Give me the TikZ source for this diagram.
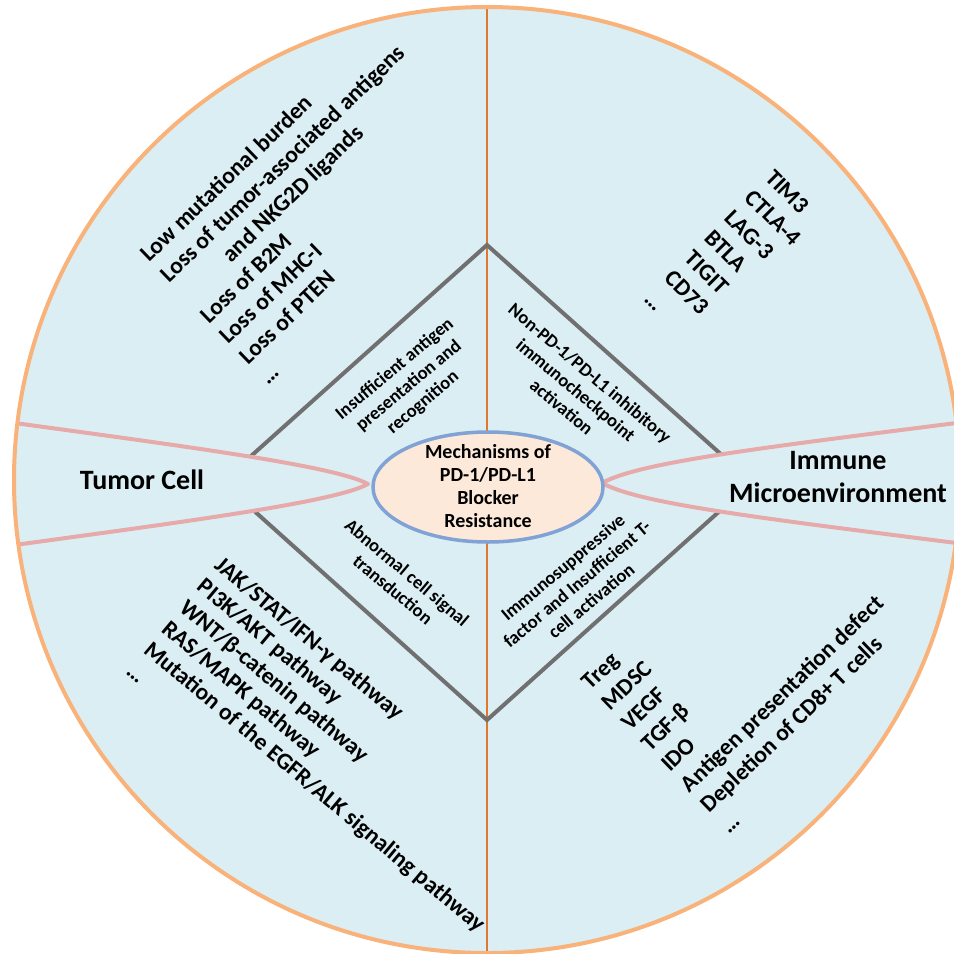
\documentclass[tikz,border=0pt]{standalone}
\usepackage{fontspec}
\setmainfont{Carlito}
\usetikzlibrary{shapes.geometric}
\definecolor{paleblue}{RGB}{219,238,244}
\definecolor{rimorange}{RGB}{248,178,122}
\definecolor{axisorange}{RGB}{226,118,44}
\definecolor{lenspink}{RGB}{231,170,170}
\definecolor{diamondgray}{RGB}{112,112,112}
\definecolor{corepeach}{RGB}{253,233,217}
\definecolor{coreblue}{RGB}{128,162,212}
\tikzset{
	liststyle/.style={inner sep=0pt,align=left,anchor=north west,font=\fontsize{23.5}{28.5}\selectfont\bfseries},
	causestyle/.style={inner sep=0pt,align=center,font=\fontsize{18.5}{22}\selectfont\bfseries},
	sidestyle/.style={inner sep=0pt,align=center,font=\fontsize{28}{33}\selectfont\bfseries},
	corestyle/.style={ellipse,draw=coreblue,line width=3.5pt,fill=corepeach,minimum width=230pt,minimum height=110pt,inner sep=0pt},
	coretext/.style={inner sep=0pt,align=center,font=\fontsize{20}{23}\selectfont\bfseries},
	lensline/.style={draw=lenspink,line width=4pt,line join=round},
	diamondline/.style={draw=diamondgray,line width=4pt},
	axisline/.style={draw=axisorange,line width=1.6pt},
	rimline/.style={draw=rimorange,line width=4pt}
}
\begin{document}
\begin{tikzpicture}[x=1pt,y=-1pt]
		\useasboundingbox (0,0) rectangle (954,954);
		\coordinate (hub) at (487,480);
		\coordinate (dtop) at (487,245);
		\coordinate (dright) at (752,482);
		\coordinate (dbottom) at (487,720);
		\coordinate (dleft) at (222,482);
		\coordinate (lefttip) at (368,484);
		\coordinate (righttip) at (602,483);
		% disc
		\fill[paleblue] (hub) circle (473pt);
		\begin{scope}
			\clip (hub) circle (473pt);
			\draw[axisline] (487,0) -- (487,954);
			\draw[diamondline] (dtop) -- (dright) -- (dbottom) -- (dleft) -- cycle;
			% left lens
			\fill[paleblue] (-20,421) -- (0,421) .. controls (190,447) and (335,466) .. (lefttip) .. controls (335,502) and (190,521) .. (0,547) -- (-20,547) -- cycle;
			\draw[lensline] (0,421) .. controls (190,447) and (335,466) .. (lefttip) .. controls (335,502) and (190,521) .. (0,547);
			% right lens
			\fill[paleblue] (980,420) .. controls (760,448) and (640,462) .. (righttip) .. controls (640,504) and (760,518) .. (980,546) -- (1000,546) -- (1000,420) -- cycle;
			\draw[lensline] (980,420) .. controls (760,448) and (640,462) .. (righttip) .. controls (640,504) and (760,518) .. (980,546);
		\end{scope}
		\draw[rimline] (hub) circle (473pt);
		% centre
		\node[corestyle] (core) at (488,487) {};
		\node[coretext] (coretitle) at (488,486) {Mechanisms of\\PD-1/PD-L1\\Blocker\\Resistance};
		% sides
		\node[sidestyle] (tumor) at (142,480) {Tumor Cell};
		\node[sidestyle] (immune) at (838,477) {Immune\\Microenvironment};
		% causes
		\node[causestyle,rotate=40] (antigen) at (409,386) {Insufficient antigen\\presentation and\\recognition};
		\node[causestyle,rotate=-40] (checkpoint) at (576,390) {Non-PD-1/PD-L1 inhibitory\\immunocheckpoint\\activation};
		\node[causestyle,rotate=-40] (signal) at (400,581) {Abnormal cell signal\\transduction};
		\node[causestyle,rotate=40] (suppress) at (577,584) {Immunosuppressive\\factor and Insufficient T-\\cell activation};
		% lists
		\node[liststyle,rotate=44] (tumorlist) at (138,251) {Low mutational burden\\Loss of tumor-associated antigens\\\hspace*{2.5em}and NKG2D ligands\\Loss of B2M\\Loss of MHC-I\\Loss of PTEN\\…};
		\node[liststyle,rotate=-45] (checklist) at (775,168) {TIM3\\CTLA-4\\LAG-3\\BTLA\\TIGIT\\CD73\\…};
		\node[liststyle,rotate=-40,font=\fontsize{23.5}{27.5}\selectfont\bfseries] (pathlist) at (224,555) {JAK/STAT/IFN-γ pathway\\PI3K/AKT pathway\\WNT/β-catenin pathway\\RAS/MAPK pathway\\Mutation of the EGFR/ALK signaling pathway\\…};
		\node[liststyle,rotate=44] (factorlist) at (580,680) {Treg\\MDSC\\VEGF\\TGF-β\\IDO\\Antigen presentation defect\\Depletion of CD8+ T cells\\…};
\end{tikzpicture}
\end{document}
